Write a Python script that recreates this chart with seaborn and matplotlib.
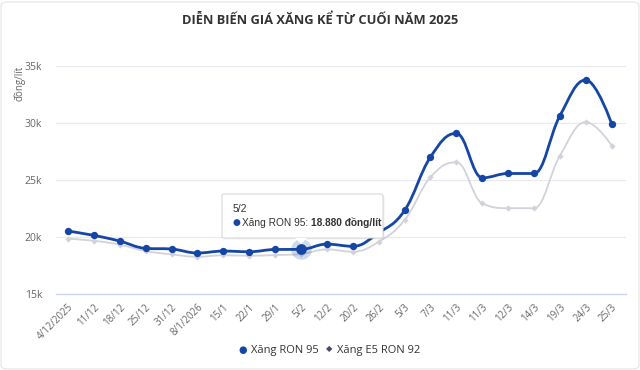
import numpy as np
import pandas as pd
import matplotlib
matplotlib.use("Agg")
import matplotlib.pyplot as plt
import seaborn as sns
from matplotlib.path import Path
from matplotlib.patches import PathPatch, FancyBboxPatch, Polygon

# Data
dates = ["4/12/2025", "11/12", "18/12", "25/12", "31/12", "8/1/2026", "15/1", "22/1",
         "29/1", "5/2", "12/2", "20/2", "26/2", "5/3", "7/3", "11/3", "11/3", "12/3",
         "14/3", "19/3", "24/3", "25/3"]
ron95 = [20490, 20110, 19610, 18970, 18910, 18560, 18730, 18670, 18870, 18880, 19340,
         19150, 20330, 22300, 27000, 29080, 25170, 25550, 25550, 30640, 33770, 29900]
e5ron92 = [19810, 19640, 19290, 18730, 18440, 18230, 18360, 18320, 18380, 18470, 18880,
           18670, 19550, 21450, 25220, 26540, 22920, 22500, 22500, 27130, 30070, 28000]
y_ticks = [15000, 20000, 25000, 30000, 35000]
y_tick_labels = ["15k", "20k", "25k", "30k", "35k"]

BLUE = "#1546a6"
GREY_LINE = "#d2d2da"
E5_LEGEND = "#4a4a68"

sns.set_theme(style="white")
plt.rcParams["font.family"] = ["Open Sans", "DejaVu Sans"]

df = pd.DataFrame({"idx": np.arange(len(dates)), "ron95": ron95, "e5": e5ron92})


def spline_path(xs, ys, smoothing=1.5):
    # Highcharts-style spline through the data points (bezier segments)
    n = len(xs)
    lc = [None] * n
    rc = [None] * n
    for i in range(1, n - 1):
        x, y = xs[i], ys[i]
        lx, ly = xs[i - 1], ys[i - 1]
        nx, ny = xs[i + 1], ys[i + 1]
        d = smoothing + 1
        lcx, lcy = (smoothing * x + lx) / d, (smoothing * y + ly) / d
        rcx, rcy = (smoothing * x + nx) / d, (smoothing * y + ny) / d
        corr = (rcy - lcy) * (rcx - x) / (rcx - lcx) + y - rcy
        lcy += corr
        rcy += corr
        if lcy > ly and lcy > y:
            lcy = max(ly, y); rcy = 2 * y - lcy
        elif lcy < ly and lcy < y:
            lcy = min(ly, y); rcy = 2 * y - lcy
        if rcy > ny and rcy > y:
            rcy = max(ny, y); lcy = 2 * y - rcy
        elif rcy < ny and rcy < y:
            rcy = min(ny, y); lcy = 2 * y - rcy
        lc[i] = (lcx, lcy)
        rc[i] = (rcx, rcy)
    verts = [(xs[0], ys[0])]
    codes = [Path.MOVETO]
    for i in range(1, n):
        c1 = rc[i - 1] if rc[i - 1] is not None else (xs[i - 1], ys[i - 1])
        c2 = lc[i] if lc[i] is not None else (xs[i], ys[i])
        verts += [c1, c2, (xs[i], ys[i])]
        codes += [Path.CURVE4] * 3
    return Path(verts, codes)


fig = plt.figure(figsize=(6.4, 3.7), dpi=100)
ax = fig.add_axes([56 / 640, 1 - 293.5 / 370, 570 / 640, 227.5 / 370])

# smooth lines
ax.add_patch(PathPatch(spline_path(list(df["idx"]), e5ron92), fill=False,
                       edgecolor=GREY_LINE, lw=1.3, zorder=2))
ax.add_patch(PathPatch(spline_path(list(df["idx"]), ron95), fill=False,
                       edgecolor=BLUE, lw=2.0, zorder=4))

# markers
sns.scatterplot(data=df, x="idx", y="e5", marker="D", s=10, color=GREY_LINE,
                edgecolor=GREY_LINE, linewidth=0, ax=ax, zorder=3)
sns.scatterplot(data=df, x="idx", y="ron95", marker="o", s=28, color=BLUE,
                edgecolor=BLUE, linewidth=0, ax=ax, zorder=5)

# hovered point
hi = dates.index("5/2")
ax.scatter([hi], [ron95[hi]], s=220, color=BLUE, alpha=0.2, linewidth=0, zorder=4)
ax.scatter([hi], [ron95[hi]], s=60, color=BLUE, linewidth=0, zorder=6)

ax.set_xlim(-0.46, 21.55)
ax.set_ylim(15000, 35000)
ax.set_yticks(y_ticks)
ax.set_yticklabels(y_tick_labels)
ax.set_xticks(df["idx"])
ax.set_xticklabels(dates, rotation=45, ha="right", rotation_mode="anchor")
ax.tick_params(axis="y", labelsize=7.5, colors="#666666", length=0, pad=10)
ax.tick_params(axis="x", labelsize=7, colors="#666666", length=0, pad=6)
ax.grid(axis="y", color="#e8e8ee", lw=0.9)
ax.grid(axis="x", visible=False)
for s in ["top", "right", "left"]:
    ax.spines[s].set_visible(False)
ax.spines["bottom"].set_color("#ccd6eb")
ax.spines["bottom"].set_linewidth(1)
ax.set_xlabel("")
ax.set_ylabel("")

fig.text(20 / 640, 1 - 66 / 370, "đồng/lít", rotation=90, ha="center", va="top",
         fontsize=7, color="#666666")

fig.text(320 / 640, 1 - 20 / 370, "DIỄN BIẾN GIÁ XĂNG KỂ TỪ CUỐI NĂM 2025",
         ha="center", va="center", fontsize=9.3, fontweight="bold", color="#333333")

# tooltip
W, H = 640, 370
bx0, bx1, by0, by1 = 222, 383, 194, 238
shadow = FancyBboxPatch(((bx0 + 1.5) / W, 1 - (by1 + 1.5) / H), (bx1 - bx0) / W, (by1 - by0) / H,
                        boxstyle="round,pad=0,rounding_size=0.004", transform=fig.transFigure,
                        facecolor="#000000", alpha=0.06, edgecolor="none", zorder=9)
fig.patches.append(shadow)
box = FancyBboxPatch((bx0 / W, 1 - by1 / H), (bx1 - bx0) / W, (by1 - by0) / H,
                     boxstyle="round,pad=0,rounding_size=0.004", transform=fig.transFigure,
                     facecolor="white", edgecolor="#d8d8d8", lw=0.8, zorder=10)
fig.patches.append(box)
tip = Polygon([(295 / W, 1 - by1 / H), (301 / W, 1 - 244 / H), (307 / W, 1 - by1 / H)],
              closed=True, transform=fig.transFigure, facecolor="white",
              edgecolor="none", zorder=11)
fig.patches.append(tip)
tfam = ["Liberation Sans", "DejaVu Sans"]
fig.text(233 / W, 1 - 209 / H, "5/2", fontsize=7.5, color="#333333", va="center",
         zorder=12, family=tfam)
fig.text(236 / W, 1 - 223 / H, "●", fontsize=6.5, color=BLUE, va="center", ha="center",
         zorder=12, family=["DejaVu Sans"])
t1 = fig.text(242 / W, 1 - 223 / H, "Xăng RON 95:", fontsize=7.3, color="#333333",
              va="center", zorder=12, family=tfam)
fig.canvas.draw()
bb = t1.get_window_extent()
fig.text((bb.x1 + 3) / W, 1 - 223 / H, "18.880 đồng/lít", fontsize=7.3, color="#333333",
         fontweight="bold", va="center", zorder=12, family=tfam)

# legend
fig.text(243 / W, 1 - 350 / H, "●", fontsize=7, color=BLUE, va="center", ha="center")
fig.text(251 / W, 1 - 350 / H, "Xăng RON 95", fontsize=8, color="#333333", va="center")
fig.text(329 / W, 1 - 350 / H, "◆", fontsize=6, color=E5_LEGEND, va="center", ha="center")
fig.text(337 / W, 1 - 350 / H, "Xăng E5 RON 92", fontsize=8, color="#333333", va="center")

# outer frame
frame = FancyBboxPatch((1 / W, 1 / H), 638 / W, 367 / H,
                       boxstyle="round,pad=0,rounding_size=0.01", transform=fig.transFigure,
                       facecolor="none", edgecolor="#e4e4e4", lw=0.8)
fig.patches.append(frame)

fig.savefig("out.png", dpi=100)
